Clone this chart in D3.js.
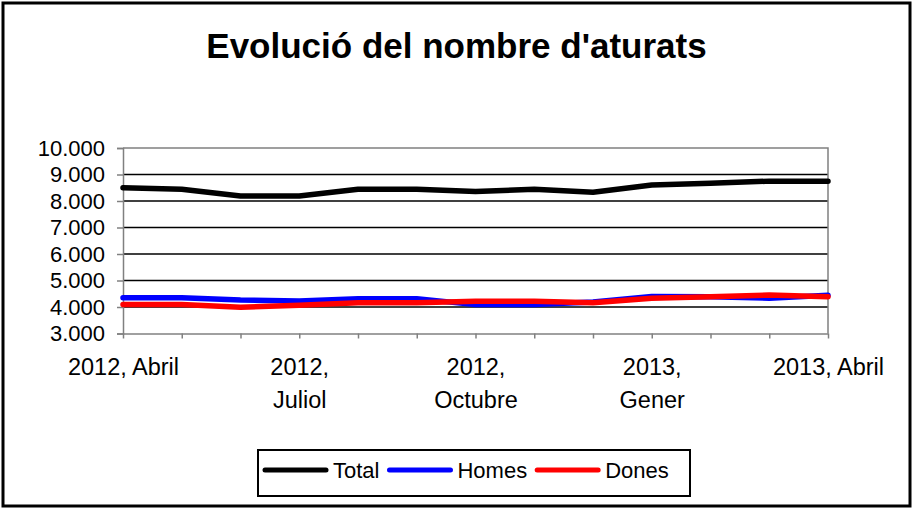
<!DOCTYPE html>
<html>
<head>
<meta charset="utf-8">
<script src="https://cdn.jsdelivr.net/npm/d3@7"></script>
<style>
  body { margin: 0; background: #fff; }
  svg { display: block; font-family: "Liberation Sans", Arial, sans-serif; }
</style>
</head>
<body>
<div id="container"></div>
<script>
const months = ["2012, Abril", "2012, Maig", "2012, Juny", "2012, Juliol", "2012, Agost",
  "2012, Setembre", "2012, Octubre", "2012, Novembre", "2012, Desembre",
  "2013, Gener", "2013, Febrer", "2013, Març", "2013, Abril"];
const totalValues = [8500, 8440, 8190, 8190, 8440, 8440, 8360, 8440, 8330, 8600, 8670, 8750, 8750];
const homesValues = [4350, 4350, 4260, 4230, 4310, 4310, 4090, 4090, 4190, 4400, 4390, 4330, 4440];
const donesValues = [4090, 4090, 3990, 4070, 4160, 4160, 4220, 4220, 4160, 4330, 4390, 4450, 4390];
const yTicks = [3000, 4000, 5000, 6000, 7000, 8000, 9000, 10000];
// tick labels shown on the category axis (wrapped like the original)
const xTickLabels = {
  "2012, Abril": ["2012, Abril"],
  "2012, Juliol": ["2012,", "Juliol"],
  "2012, Octubre": ["2012,", "Octubre"],
  "2013, Gener": ["2013,", "Gener"],
  "2013, Abril": ["2013, Abril"]
};

const series = [
  {name: "Total", values: totalValues, color: "#000000"},
  {name: "Homes", values: homesValues, color: "#0000ff"},
  {name: "Dones", values: donesValues, color: "#ff0000"}
];

const W = 913, H = 509;
const svg = d3.select("#container").append("svg")
  .attr("width", W).attr("height", H);

// outer chart border
svg.append("rect")
  .attr("x", 3).attr("y", 3)
  .attr("width", 907).attr("height", 503)
  .attr("fill", "#fff")
  .attr("stroke", "#000")
  .attr("stroke-width", 3);

svg.append("text")
  .attr("x", W / 2).attr("y", 58)
  .attr("text-anchor", "middle")
  .style("font-size", "35px")
  .style("font-weight", "bold")
  .text("Evolució del nombre d'aturats");

const plot = {left: 123, right: 828, top: 148, bottom: 333.5};

const x = d3.scalePoint()
  .domain(months)
  .range([plot.left, plot.right]);

const y = d3.scaleLinear()
  .domain([3000, 10000])
  .range([plot.bottom, plot.top]);

const locale = d3.formatLocale({decimal: ",", thousands: ".", grouping: [3], currency: ["", "€"]});
const fmt = locale.format(",");

// gridlines
svg.append("g")
  .selectAll("line")
  .data(yTicks.filter(d => d > 3000 && d < 10000))
  .join("line")
  .attr("x1", plot.left).attr("x2", plot.right)
  .attr("y1", d => y(d)).attr("y2", d => y(d))
  .attr("stroke", "#000")
  .attr("stroke-width", 1.5);

// plot area border (top + right)
svg.append("path")
  .attr("d", `M${plot.left},${y(10000)}H${plot.right}V${plot.bottom}`)
  .attr("fill", "none")
  .attr("stroke", "#808080")
  .attr("stroke-width", 1.5);

const yAxis = svg.append("g")
  .attr("transform", `translate(${plot.left},0)`)
  .call(d3.axisLeft(y).tickValues(yTicks).tickSize(6).tickPadding(12).tickFormat(fmt));
yAxis.selectAll("text")
  .style("font-size", "22px")
  .attr("fill", "#000")
  .attr("font-family", null);
yAxis.selectAll("line, path").attr("stroke", "#808080").attr("stroke-width", 1.5);

const xAxis = svg.append("g")
  .attr("transform", `translate(0,${plot.bottom})`)
  .call(d3.axisBottom(x).tickSize(5).tickSizeOuter(0).tickFormat(() => ""));
xAxis.selectAll("line, path").attr("stroke", "#808080").attr("stroke-width", 1.5);
xAxis.selectAll(".tick text").remove();
xAxis.selectAll(".tick").each(function(d) {
  const lines = xTickLabels[d];
  if (!lines) return;
  const t = d3.select(this).append("text")
    .attr("text-anchor", "middle")
    .attr("fill", "#000")
    .style("font-size", "23.5px");
  lines.forEach((l, i) => {
    t.append("tspan").attr("x", 0).attr("y", 41.5 + i * 33).text(l);
  });
});

const line = d3.line()
  .x((d, i) => x(months[i]))
  .y(d => y(d));

series.forEach(s => {
  svg.append("path")
    .datum(s.values)
    .attr("fill", "none")
    .attr("stroke", s.color)
    .attr("stroke-width", 5.5)
    .attr("stroke-linejoin", "round")
    .attr("stroke-linecap", "round")
    .attr("d", line);
});

// legend
const legend = svg.append("g");
legend.append("rect")
  .attr("x", 258).attr("y", 450)
  .attr("width", 432).attr("height", 46)
  .attr("fill", "#fff")
  .attr("stroke", "#000")
  .attr("stroke-width", 2);

let lx = 265;
series.forEach(s => {
  legend.append("line")
    .attr("x1", lx).attr("x2", lx + 61)
    .attr("y1", 470).attr("y2", 470)
    .attr("stroke", s.color)
    .attr("stroke-width", 5)
    .attr("stroke-linecap", "round");
  const t = legend.append("text")
    .attr("x", lx + 68).attr("y", 478)
    .style("font-size", "22px")
    .text(s.name);
  lx = lx + 68 + t.node().getComputedTextLength() + 10;
});
</script>
</body>
</html>
